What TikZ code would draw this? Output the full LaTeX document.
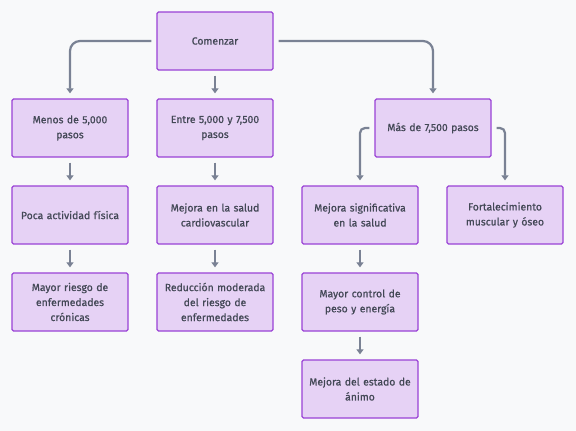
\documentclass[tikz,border=0pt]{standalone}
\usepackage{fontspec}
\setmainfont{Fira Sans}
\newfontfamily\boxfont{Fira Sans}[FakeBold=0.7]
\usetikzlibrary{arrows.meta}
\definecolor{bg}{HTML}{F8F9FA}
\definecolor{boxfill}{HTML}{E6D2F5}
\definecolor{boxdraw}{HTML}{9A42D6}
\definecolor{edge}{HTML}{7A8294}
\definecolor{txt}{HTML}{434856}
\begin{document}
\begin{tikzpicture}[x=1pt,y=-1pt,
  box/.style={draw=boxdraw,fill=boxfill,line width=1.3pt,rounded corners=1.5pt,
    minimum width=116pt,minimum height=58pt,inner sep=0pt,align=center,
    text width=108pt,font=\boxfont\fontsize{10.4}{15}\selectfont,text=txt},
  conn/.style={draw=edge,line width=2.2pt,rounded corners=10pt,
    -{Triangle[length=5pt,width=7pt]},shorten >=5pt,shorten <=5pt}]
\useasboundingbox[fill=bg] (0,0) rectangle (576,431);
\node[box] (start) at (215,41) {Comenzar};
\node[box] (menos) at (70,128) {Menos de 5,000\\pasos};
\node[box] (entre) at (215,128) {Entre 5,000 y 7,500\\pasos};
\node[box] (mas) at (433,128) {Más de 7,500 pasos};
\node[box] (poca) at (70,215) {Poca actividad física};
\node[box] (cardio) at (215,215) {Mejora en la salud\\cardiovascular};
\node[box] (signif) at (360,215) {Mejora significativa\\en la salud};
\node[box] (fort) at (505,215) {Fortalecimiento\\muscular y óseo};
\node[box] (riesgo) at (70,302) {Mayor riesgo de\\enfermedades\\crónicas};
\node[box] (reduc) at (215,302) {Reducción moderada\\del riesgo de\\enfermedades};
\node[box] (control) at (360,302) {Mayor control de\\peso y energía};
\node[box] (animo) at (360,389) {Mejora del estado de\\ánimo};
\draw[conn] (start.west) -| (menos.north);
\draw[conn] (start.south) -- (entre.north);
\draw[conn] (start.east) -| (mas.north);
\draw[conn,rounded corners=5pt] (mas.west) -| (signif.north);
\draw[conn,rounded corners=5pt] (mas.east) -| (fort.north);
\draw[conn] (menos.south) -- (poca.north);
\draw[conn] (poca.south) -- (riesgo.north);
\draw[conn] (entre.south) -- (cardio.north);
\draw[conn] (cardio.south) -- (reduc.north);
\draw[conn] (signif.south) -- (control.north);
\draw[conn] (control.south) -- (animo.north);
\end{tikzpicture}
\end{document}
